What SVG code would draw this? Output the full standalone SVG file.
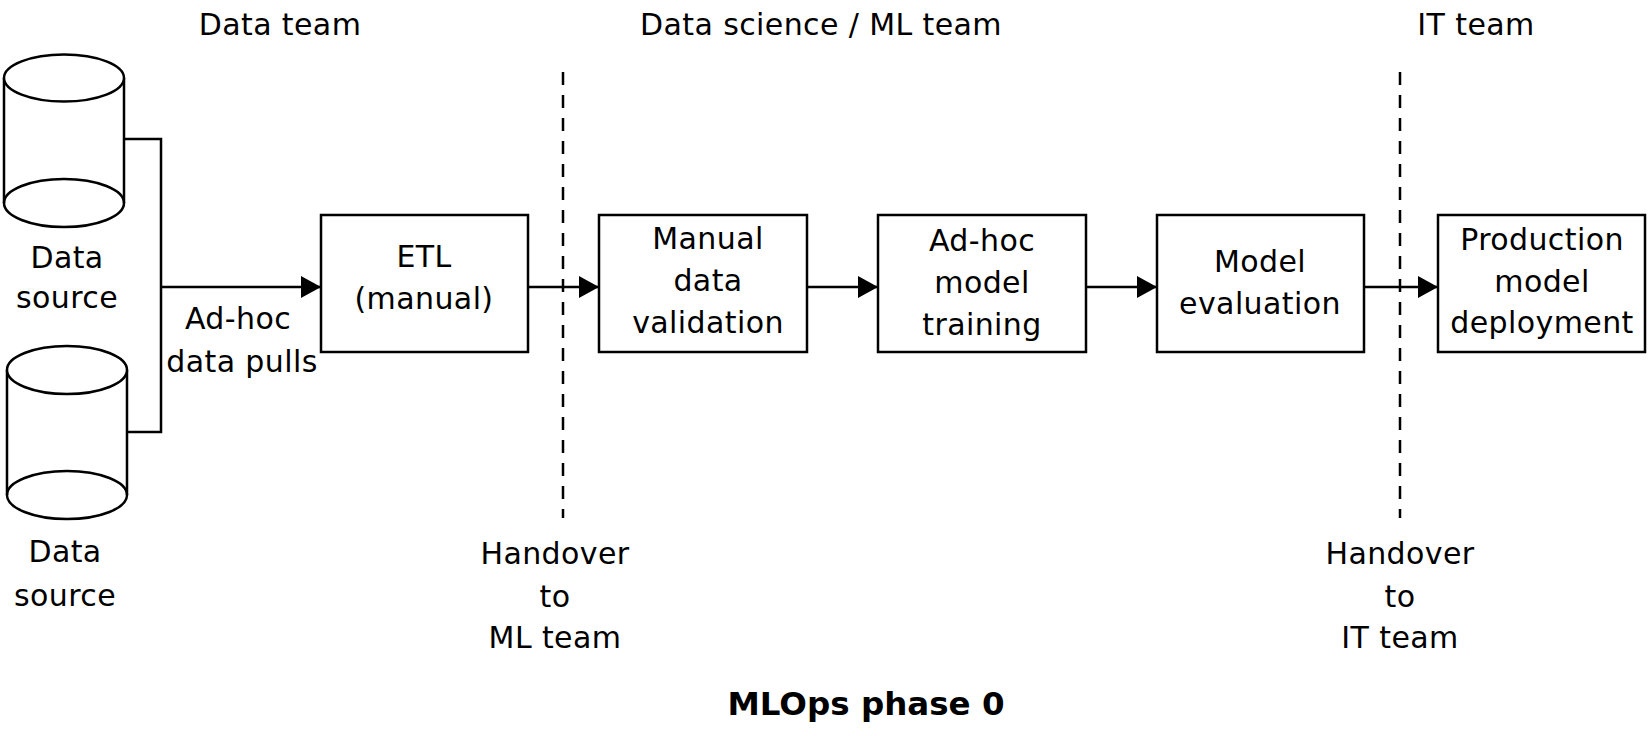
<svg xmlns="http://www.w3.org/2000/svg" width="1650" height="736" viewBox="0 0 1650 736">
<defs>
<style>
.t{font-family:"DejaVu Sans","Liberation Sans",sans-serif;font-size:30px;fill:#000;text-anchor:middle;letter-spacing:0.4px}
.title{font-family:"DejaVu Sans","Liberation Sans",sans-serif;font-size:32.5px;font-weight:bold;fill:#000;text-anchor:middle}
.box{fill:#fff;stroke:#000;stroke-width:2.5}
.cyl{fill:#fff;stroke:#000;stroke-width:2.5}
.ln{fill:none;stroke:#000;stroke-width:2.5}
.arr{fill:none;stroke:#000;stroke-width:2.5;marker-end:url(#ah)}
.dash{fill:none;stroke:#000;stroke-width:2.5;stroke-dasharray:13 10}
</style>
<marker id="ah" viewBox="0 0 20 22" refX="20" refY="11" markerWidth="20" markerHeight="22" markerUnits="userSpaceOnUse" orient="auto">
<path d="M0,0 L20,11 L0,22 z" fill="#000"/>
</marker>
</defs>
<rect width="1650" height="736" fill="#fff"/>

<g id="lanes">
<text class="t" x="280" y="35">Data team</text>
<text class="t" x="821" y="35">Data science / ML team</text>
<text class="t" x="1476" y="35">IT team</text>
</g>

<g id="connectors">
<line class="dash" x1="563" y1="72" x2="563" y2="518"/>
<line class="dash" x1="1400" y1="72" x2="1400" y2="518"/>
<polyline class="ln" points="124,139 161,139 161,432 127,432"/>
<line class="arr" x1="161" y1="287" x2="321" y2="287"/>
<line class="arr" x1="528" y1="287" x2="599" y2="287"/>
<line class="arr" x1="807" y1="287" x2="878" y2="287"/>
<line class="arr" x1="1086" y1="287" x2="1157" y2="287"/>
<line class="arr" x1="1364" y1="287" x2="1438" y2="287"/>
<text class="t"><tspan x="238" y="329">Ad-hoc</tspan><tspan x="242" y="372">data pulls</tspan></text>
</g>

<g id="source1">
<path class="cyl" d="M4,78 L4,203 A60,24 0 0 0 124,203 L124,78"/>
<ellipse class="cyl" cx="64" cy="78" rx="60" ry="23.5"/>
<path class="ln" d="M4,203 A60,24 0 0 1 124,203"/>
<text class="t"><tspan x="67" y="268">Data</tspan><tspan x="67" y="308">source</tspan></text>
</g>

<g id="source2">
<path class="cyl" d="M7,370 L7,495 A60,24 0 0 0 127,495 L127,370"/>
<ellipse class="cyl" cx="67" cy="370" rx="60" ry="24"/>
<path class="ln" d="M7,495 A60,24 0 0 1 127,495"/>
<text class="t"><tspan x="65" y="562">Data</tspan><tspan x="65" y="606">source</tspan></text>
</g>

<g id="etl">
<rect class="box" x="321" y="215" width="207" height="137"/>
<text class="t"><tspan x="424" y="267">ETL</tspan><tspan x="424" y="309">(manual)</tspan></text>
</g>

<g id="validation">
<rect class="box" x="599" y="215" width="208" height="137"/>
<text class="t"><tspan x="708" y="249">Manual</tspan><tspan x="708" y="291">data</tspan><tspan x="708" y="333">validation</tspan></text>
</g>

<g id="training">
<rect class="box" x="878" y="215" width="208" height="137"/>
<text class="t"><tspan x="982" y="251">Ad-hoc</tspan><tspan x="982" y="293">model</tspan><tspan x="982" y="335">training</tspan></text>
</g>

<g id="evaluation">
<rect class="box" x="1157" y="215" width="207" height="137"/>
<text class="t"><tspan x="1260" y="272">Model</tspan><tspan x="1260" y="314">evaluation</tspan></text>
</g>

<g id="deployment">
<rect class="box" x="1438" y="215" width="207" height="137"/>
<text class="t"><tspan x="1542" y="250">Production</tspan><tspan x="1542" y="292">model</tspan><tspan x="1542" y="333">deployment</tspan></text>
</g>

<g id="handover-ml">
<text class="t"><tspan x="555" y="564">Handover</tspan><tspan x="555" y="607">to</tspan><tspan x="555" y="648">ML team</tspan></text>
</g>

<g id="handover-it">
<text class="t"><tspan x="1400" y="564">Handover</tspan><tspan x="1400" y="607">to</tspan><tspan x="1400" y="648">IT team</tspan></text>
</g>

<text class="title" x="866" y="715">MLOps phase 0</text>
</svg>
